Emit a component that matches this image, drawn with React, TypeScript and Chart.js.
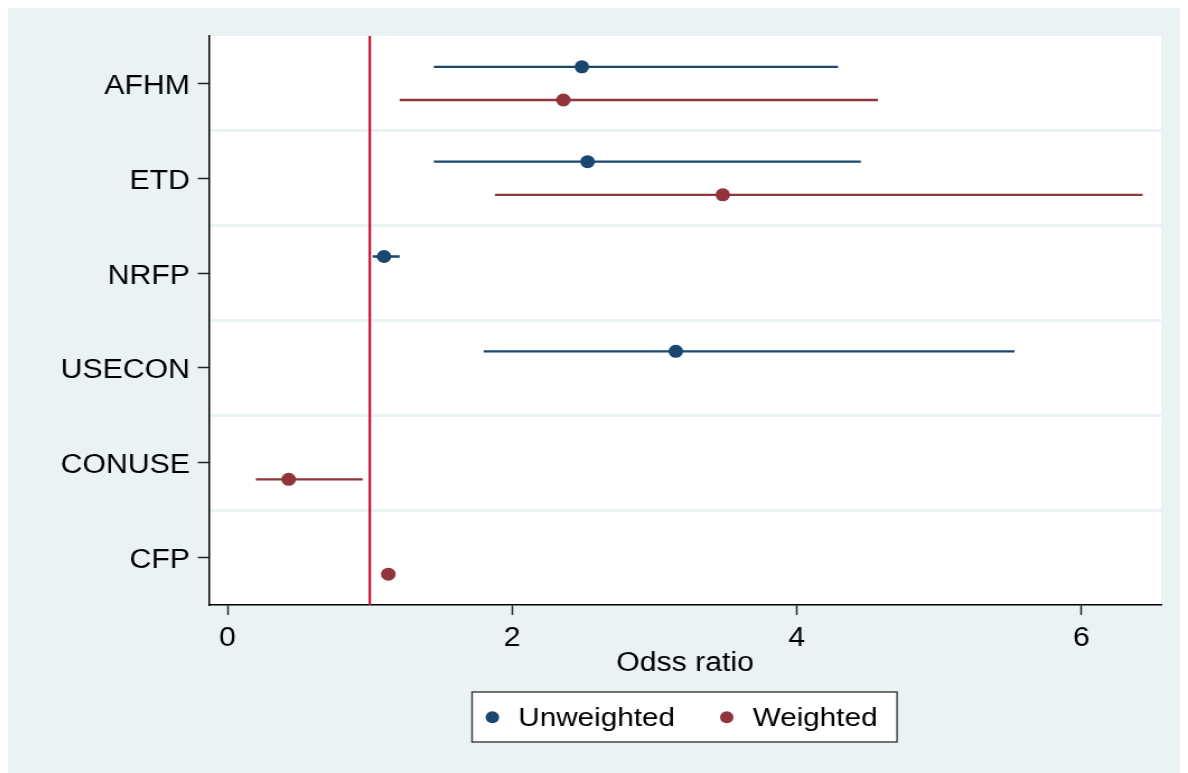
import React, { useEffect, useRef } from 'react';
import { Chart, registerables } from 'chart.js';

Chart.register(...registerables);

// ---- data ----
const categories = ['AFHM', 'ETD', 'NRFP', 'USECON', 'CONUSE', 'CFP'];
const seriesNames = ['Unweighted', 'Weighted'];
const unweightedOR = [2.49, 2.53, 1.10, 3.15, null, null];
const unweightedLo = [1.45, 1.45, 1.02, 1.80, null, null];
const unweightedHi = [4.29, 4.45, 1.21, 5.53, null, null];
const weightedOR = [2.36, 3.48, null, null, 0.43, 1.13];
const weightedLo = [1.21, 1.88, null, null, 0.20, 1.11];
const weightedHi = [4.57, 6.43, null, null, 0.95, 1.15];
const xTickValues = [0, 2, 4, 6];
const referenceValue = 1;
const xTitle = 'Odss ratio';

// ---- styling / layout ----
const CW = 1054;
const CH = 765;
const SX = 1180 / CW;
const FONT = '"Liberation Sans", Arial, Helvetica, sans-serif';
const BG = '#EAF2F3';
const BLUE = '#1A476F';
const MAROON = '#90353B';
const RED = '#CC1236';
const OFF = 0.175;

function pointData(est: (number | null)[], sign: number) {
  const out: { x: number; y: number }[] = [];
  est.forEach((v, i) => {
    if (v !== null) out.push({ x: v, y: i + 0.5 + sign * OFF });
  });
  return out;
}

function ciDatasets(lo: (number | null)[], hi: (number | null)[], sign: number, color: string) {
  const out: any[] = [];
  lo.forEach((l, i) => {
    const h = hi[i];
    if (l !== null && h !== null) {
      out.push({
        type: 'scatter',
        label: 'ci',
        data: [
          { x: l, y: i + 0.5 + sign * OFF },
          { x: h, y: i + 0.5 + sign * OFF },
        ],
        showLine: true,
        borderColor: color,
        borderWidth: 2.3,
        pointRadius: 0,
        order: 1,
        yAxisID: 'y',
      });
    }
  });
  return out;
}

const bgPlugin = {
  id: 'bgPlugin',
  beforeDraw(chart: any) {
    const { ctx, chartArea } = chart;
    ctx.save();
    ctx.fillStyle = BG;
    ctx.fillRect(0, 0, chart.width, chart.height);
    ctx.fillStyle = '#FFFFFF';
    ctx.fillRect(chartArea.left, chartArea.top, chartArea.right - chartArea.left, chartArea.bottom - chartArea.top);
    ctx.restore();
  },
};

const legendPlugin = {
  id: 'boxLegend',
  afterDraw(chart: any) {
    const { ctx } = chart;
    const boxL = 414.5, boxR = 794.1, boxT = 684, boxB = 734;
    const cy = 709.3;
    ctx.save();
    ctx.fillStyle = '#FFFFFF';
    ctx.fillRect(boxL, boxT, boxR - boxL, boxB - boxT);
    ctx.strokeStyle = '#3a3a3a';
    ctx.lineWidth = 1.4;
    ctx.strokeRect(boxL, boxT, boxR - boxL, boxB - boxT);
    const items = [
      { mx: 432.6, tx: 455.8, color: BLUE, text: seriesNames[0] },
      { mx: 642.0, tx: 665.2, color: MAROON, text: seriesNames[1] },
    ];
    ctx.font = `26.5px ${FONT}`;
    ctx.textBaseline = 'middle';
    ctx.textAlign = 'left';
    items.forEach((it) => {
      ctx.fillStyle = it.color;
      ctx.beginPath();
      ctx.arc(it.mx, cy, 6, 0, Math.PI * 2);
      ctx.fill();
      ctx.fillStyle = '#000';
      ctx.fillText(it.text, it.tx, cy + 1.5);
    });
    ctx.restore();
  },
};

export default function App() {
  const ref = useRef<HTMLCanvasElement>(null);
  useEffect(() => {
    document.documentElement.style.overflow = 'hidden';
    const canvas = ref.current;
    if (!canvas) return;
    const datasets: any[] = [
      {
        type: 'scatter',
        label: seriesNames[0],
        data: pointData(unweightedOR, -1),
        backgroundColor: BLUE,
        borderColor: BLUE,
        pointRadius: 6.5,
        pointBorderWidth: 0,
        order: 0,
        yAxisID: 'y',
      },
      {
        type: 'scatter',
        label: seriesNames[1],
        data: pointData(weightedOR, 1),
        backgroundColor: MAROON,
        borderColor: MAROON,
        pointRadius: 6.5,
        pointBorderWidth: 0,
        order: 0,
        yAxisID: 'y',
      },
      ...ciDatasets(unweightedLo, unweightedHi, -1, BLUE),
      ...ciDatasets(weightedLo, weightedHi, 1, MAROON),
      {
        type: 'scatter',
        label: 'ref',
        data: [
          { x: referenceValue, y: 0 },
          { x: referenceValue, y: categories.length },
        ],
        showLine: true,
        borderColor: RED,
        borderWidth: 2.2,
        pointRadius: 0,
        order: 2,
        yAxisID: 'y',
      },
    ];

    const chart = new Chart(canvas, {
      type: 'scatter',
      data: { datasets },
      options: {
        animation: false,
        responsive: false,
        maintainAspectRatio: false,
        layout: { padding: { top: 28, right: 24, left: 0, bottom: 0 } },
        plugins: {
          legend: { display: false },
          tooltip: { enabled: false },
        },
        scales: {
          x: {
            type: 'linear',
            position: 'bottom',
            min: -0.13,
            max: 6.56,
            afterBuildTicks: (s: any) => {
              s.ticks = xTickValues.map((v) => ({ value: v }));
            },
            ticks: {
              font: { family: FONT, size: 27 },
              color: '#000',
              padding: 7,
              callback: (v: any) => String(v),
            },
            grid: {
              drawOnChartArea: false,
              drawTicks: true,
              tickLength: 10,
              tickColor: '#222',
              tickWidth: 1.5,
            },
            border: { display: true, color: '#000', width: 1.5 },
            title: {
              display: true,
              text: xTitle,
              font: { family: FONT, size: 27 },
              color: '#000',
              padding: { top: 0, bottom: 93 },
            },
            afterFit: (s: any) => {
              s.height = 168;
            },
          },
          y: {
            type: 'linear',
            position: 'left',
            reverse: true,
            min: 0,
            max: categories.length,
            afterBuildTicks: (s: any) => {
              s.ticks = categories.map((_, i) => ({ value: i + 0.5 }));
            },
            ticks: {
              font: { family: FONT, size: 27 },
              color: '#000',
              padding: 7,
              labelOffset: 3,
              autoSkip: false,
              callback: (_v: any, i: number) => categories[i],
            },
            grid: {
              drawOnChartArea: false,
              drawTicks: true,
              tickLength: 10,
              tickColor: '#222',
              tickWidth: 1.5,
            },
            border: { display: true, color: '#000', width: 1.5 },
            afterFit: (s: any) => {
              s.width = 179.5;
            },
          },
          yGrid: {
            type: 'linear',
            position: 'left',
            reverse: true,
            min: 0,
            max: categories.length,
            afterBuildTicks: (s: any) => {
              s.ticks = categories.slice(1).map((_, i) => ({ value: i + 1 }));
            },
            ticks: { display: false },
            grid: { color: BG, lineWidth: 3, drawTicks: false },
            border: { display: false },
            afterFit: (s: any) => {
              s.width = 0;
            },
          },
        },
      } as any,
      plugins: [bgPlugin, legendPlugin],
    });
    return () => chart.destroy();
  }, []);

  return (
    <div style={{ width: CW, height: CH, transform: `scaleX(${SX})`, transformOrigin: '0 0' }}>
      <canvas ref={ref} width={CW} height={CH} style={{ display: 'block', width: CW, height: CH }} />
    </div>
  );
}
